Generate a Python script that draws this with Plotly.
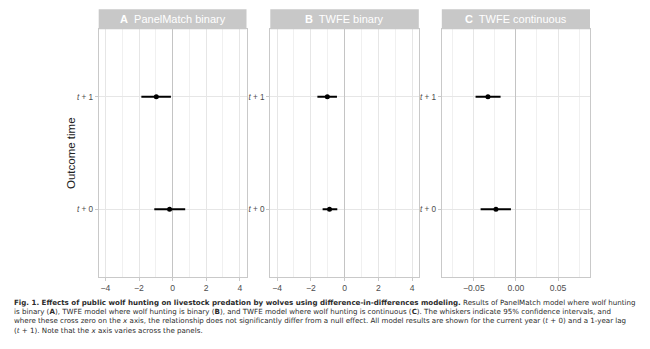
import plotly.graph_objects as go

# Difference-in-differences estimates with 95% confidence intervals
outcome_labels = ["<i>t</i> + 0", "<i>t</i> + 1"]
outcome_pos = [1, 2]

panel_titles = ["<b>A</b>  PanelMatch binary", "<b>B</b>  TWFE binary", "<b>C</b>  TWFE continuous"]

panelmatch_est = [-0.18, -0.97]
panelmatch_lo = [-1.09, -1.86]
panelmatch_hi = [0.75, -0.10]

twfe_bin_est = [-0.89, -1.02]
twfe_bin_lo = [-1.30, -1.61]
twfe_bin_hi = [-0.43, -0.45]

twfe_cont_est = [-0.0237, -0.0332]
twfe_cont_lo = [-0.0419, -0.0479]
twfe_cont_hi = [-0.0059, -0.0182]

binary_ticks = [-4, -2, 0, 2, 4]
binary_ticktext = ["\u22124", "\u22122", "0", "2", "4"]
cont_ticks = [-0.05, 0.0, 0.05]
cont_ticktext = ["\u22120.05", "0.00", "0.05"]

caption_lines = [
    "<b>Fig. 1. Effects of public wolf hunting on livestock predation by wolves using difference-in-differences modeling.</b> "
    "Results of PanelMatch model where wolf hunting",
    "is binary (<b>A</b>), TWFE model where wolf hunting is binary (<b>B</b>), and TWFE model where wolf hunting is "
    "continuous (<b>C</b>). The whiskers indicate 95% confidence intervals, and",
    "where these cross zero on the <i>x</i> axis, the relationship does not significantly differ from a null effect. "
    "All model results are shown for the current year (<i>t</i> + 0) and a 1-year lag",
    "(<i>t</i> + 1). Note that the <i>x</i> axis varies across the panels.",
]

W, H = 650, 349
panel_px = [(98.7, 246.5), (270.3, 418.8), (441.8, 590.0)]
panel_top, panel_bottom = 29.3, 276.7
strip_top = 9.3

series = [
    (panelmatch_est, panelmatch_lo, panelmatch_hi),
    (twfe_bin_est, twfe_bin_lo, twfe_bin_hi),
    (twfe_cont_est, twfe_cont_lo, twfe_cont_hi),
]
x_ranges = [[-4.4, 4.4], [-4.4, 4.4], [-0.088, 0.088]]
x_ticks = [(binary_ticks, binary_ticktext, 1), (binary_ticks, binary_ticktext, 1),
           (cont_ticks, cont_ticktext, 0.025)]

GRID = "#e6e6e6"
MINOR = "#f0f0f0"
BORDER = "#c9c9c9"
TICKFONT = dict(family="Liberation Sans, Arial, sans-serif", size=8.6, color="#4d4d4d")

fig = go.Figure()
layout = {}
shapes = []
annotations = []

for i, ((est, lo, hi), (x0, x1)) in enumerate(zip(series, panel_px)):
    n = "" if i == 0 else str(i + 1)
    plus = [h - e for h, e in zip(hi, est)]
    minus = [e - l for e, l in zip(est, lo)]
    fig.add_trace(go.Scatter(
        x=est, y=outcome_pos, mode="markers",
        marker=dict(color="black", size=5),
        error_x=dict(type="data", symmetric=False, array=plus, arrayminus=minus,
                     color="black", thickness=1.8, width=0),
        xaxis="x" + n, yaxis="y" + n, showlegend=False, hoverinfo="x+y",
    ))
    tv, tt, minor_step = x_ticks[i]
    layout["xaxis" + n] = dict(
        domain=[x0 / W, x1 / W], anchor="y" + n, range=x_ranges[i],
        tickmode="array", tickvals=tv, ticktext=tt,
        showgrid=True, gridcolor=GRID, gridwidth=1,
        minor=dict(dtick=minor_step, tick0=0, showgrid=True, gridcolor=MINOR, gridwidth=0.8, ticks=""),
        zeroline=True, zerolinecolor="#c4c4c4", zerolinewidth=1,
        showline=True, linecolor=BORDER, linewidth=1, mirror=True,
        ticks="outside", ticklen=3, tickcolor=BORDER, tickwidth=1,
        tickfont=TICKFONT, fixedrange=True,
    )
    layout["yaxis" + n] = dict(
        domain=[1 - panel_bottom / H, 1 - panel_top / H], anchor="x" + n,
        range=[0.4, 2.6], tickmode="array", tickvals=outcome_pos, ticktext=outcome_labels,
        showgrid=True, gridcolor=GRID, gridwidth=1, zeroline=False,
        showline=True, linecolor=BORDER, linewidth=1, mirror=True,
        ticks="outside", ticklen=3, tickcolor=BORDER, tickwidth=1,
        tickfont=dict(family="Liberation Sans, Arial, sans-serif", size=8.2, color="#4d4d4d"),
        fixedrange=True,
    )
    # facet strip
    shapes.append(dict(type="rect", xref="paper", yref="paper",
                       x0=x0 / W, x1=x1 / W, y0=1 - panel_top / H, y1=1 - strip_top / H,
                       fillcolor="#c8c8c8", line=dict(width=0), layer="above"))
    annotations.append(dict(text=panel_titles[i], xref="paper", yref="paper",
                            x=(x0 + x1) / 2 / W, y=1 - (strip_top + panel_top) / 2 / H,
                            xanchor="center", yanchor="middle", showarrow=False,
                            font=dict(family="Liberation Sans, Arial, sans-serif", size=11, color="white")))

annotations.append(dict(text="Outcome time", xref="paper", yref="paper",
                        x=71 / W, y=1 - (panel_top + panel_bottom) / 2 / H, textangle=-90,
                        xanchor="center", yanchor="middle", showarrow=False,
                        font=dict(family="Liberation Sans, Arial, sans-serif", size=11.5, color="#222222")))

# figure caption as one left-aligned block
annotations.append(dict(text="<br>".join(caption_lines), xref="paper", yref="paper",
                        x=12 / W, y=1 - 316.5 / H, xanchor="left", yanchor="middle",
                        align="left", showarrow=False,
                        font=dict(family="DejaVu Sans, sans-serif", size=7.1, color="#2b2b2b")))

fig.update_layout(
    width=W, height=H, margin=dict(l=0, r=0, t=0, b=0),
    paper_bgcolor="white", plot_bgcolor="white",
    shapes=shapes, annotations=annotations, **layout,
)

fig.write_html("out.html")
